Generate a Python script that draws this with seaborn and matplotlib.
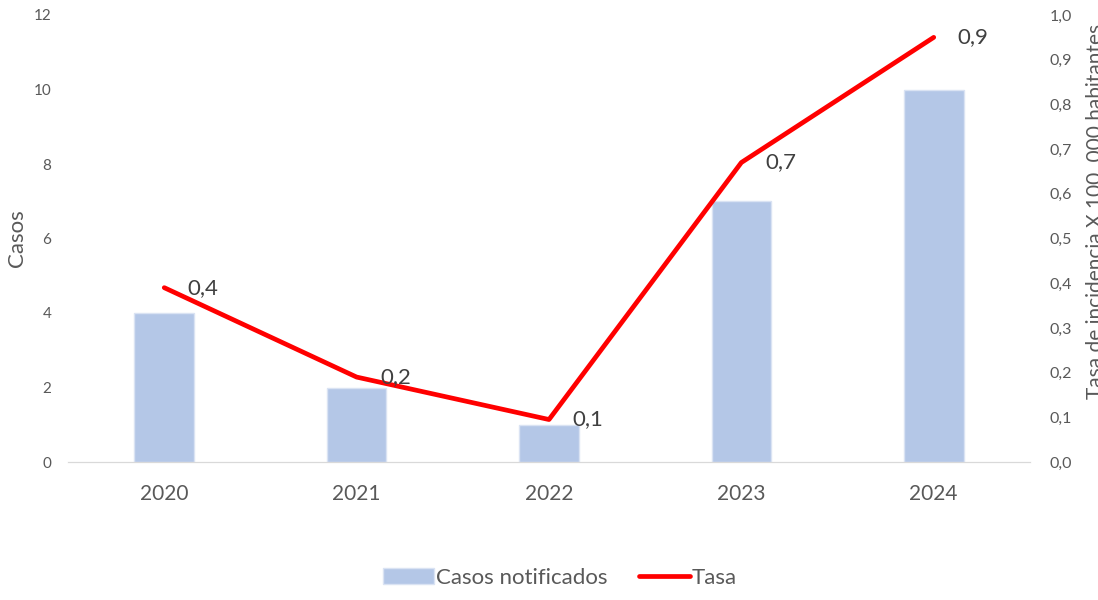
import numpy as np
import matplotlib
matplotlib.use("Agg")
import matplotlib.pyplot as plt
import seaborn as sns

anios = ["2020", "2021", "2022", "2023", "2024"]
casos = [4, 2, 1, 7, 10]
tasa = [0.39, 0.19, 0.095, 0.67, 0.95]

sns.set_style("white")
plt.rcParams['font.family'] = ['Lato', 'DejaVu Sans']

gris = "#595959"
fig = plt.figure(figsize=(10.98, 6.0), dpi=100)
ax = fig.add_axes([0.062, 0.23, 0.876, 0.745])

sns.barplot(x=anios, y=casos, color="#B4C7E7", width=0.31, saturation=1,
            edgecolor="#DAE3F3", linewidth=1, label="Casos notificados",
            legend=False, ax=ax)
ax.set_ylim(0, 12)
ax.set_yticks(range(0, 13, 2))
ax.set_xlim(-0.5, 4.5)
ax.set_ylabel("Casos", fontsize=16, color=gris)
ax.yaxis.set_label_coords(-0.043, 0.5)
ax.set_xlabel("")
ax.tick_params(axis="x", labelsize=15, colors=gris, length=0, pad=16)
ax.tick_params(axis="y", labelsize=11, colors=gris, length=0, pad=12)

ax2 = ax.twinx()
sns.lineplot(x=np.arange(len(anios)), y=tasa, color="#FF0000", linewidth=3.4,
             label="Tasa", ax=ax2, legend=False)
ax2.set_ylim(0, 1.0)
ax2.set_yticks(np.arange(0, 1.01, 0.1))
ax2.set_yticklabels([f"{v:.1f}".replace(".", ",") for v in np.arange(0, 1.01, 0.1)])
ax2.tick_params(axis="y", labelsize=11.5, colors=gris, length=0, pad=14)
ax2.set_ylabel("Tasa de incidencia X 100 .000 habitantes", fontsize=15, color=gris)
ax2.yaxis.set_label_coords(1.058, 0.56)

for i, v in enumerate(tasa):
    ax2.annotate(f"{v:.1f}".replace(".", ","), (i, v), xytext=(17, 0),
                 textcoords="offset points", fontsize=16, color="#404040",
                 ha="left", va="center")

for a in (ax, ax2):
    for s in ["top", "left", "right"]:
        a.spines[s].set_visible(False)
    a.spines["bottom"].set_color("#D9D9D9")
    a.grid(False)

h1, l1 = ax.get_legend_handles_labels()
h2, l2 = ax2.get_legend_handles_labels()
fig.legend(h1 + h2, l1 + l2, loc="center", bbox_to_anchor=(0.51, 0.037), ncol=2,
           frameon=False, fontsize=16, labelcolor=gris, handlelength=2.3,
           handletextpad=0.1, columnspacing=1.4)

fig.savefig("out.png", dpi=100)
